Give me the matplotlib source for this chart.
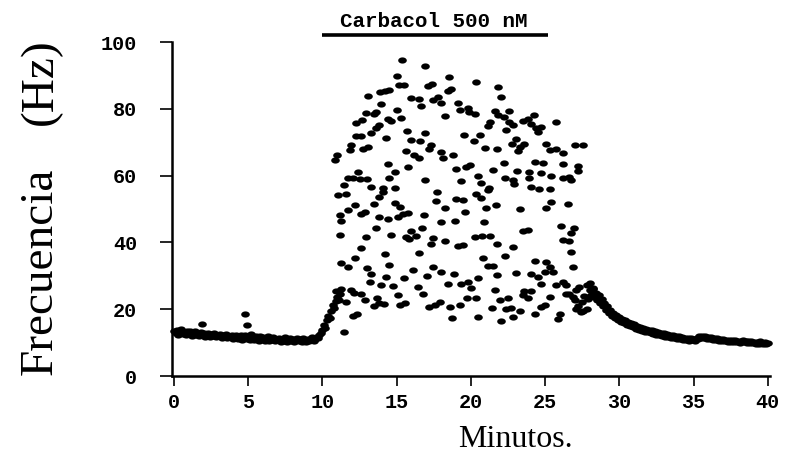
import numpy as np
import matplotlib
matplotlib.use("Agg")
import matplotlib.pyplot as plt
from matplotlib.path import Path

# ---------------- data ----------------
x_ticks = [0, 5, 10, 15, 20, 25, 30, 35, 40]
y_ticks = [0, 20, 40, 60, 80, 100]

# baseline firing, one reading every 0.1 min starting at 0 min
base_start, base_step = 0.0, 0.1
base_hz = [13.6, 12.8, 13.9, 12.4, 13.2, 14.0, 12.6, 13.3, 12.2, 13.5,
           12.7, 13.4, 12.1, 12.9, 13.6, 12.3, 12.8, 11.9, 13.1, 12.4,
           12.9, 11.8, 12.6, 13.0, 11.7, 12.5, 12.0, 12.8, 11.6, 12.3,
           11.9, 12.6, 11.4, 12.2, 11.8, 12.7, 11.3, 12.1, 11.6, 12.4,
           11.2, 11.9, 12.3, 11.0, 11.7, 12.2, 10.9, 11.6, 12.4, 11.1,
           11.8, 10.8, 12.5, 11.4, 10.7, 12.0, 11.2, 10.6, 11.9, 11.0,
           11.7, 10.5, 11.3, 12.1, 10.6, 11.5, 10.9, 11.8, 10.4, 11.2,
           10.7, 11.5, 10.3, 11.0, 10.6, 11.6, 10.2, 10.9, 11.4, 10.5,
           11.1, 10.3, 10.8, 11.5, 10.4, 11.0, 10.2, 11.3, 10.7, 10.3,
           11.2, 10.5, 10.9, 11.6, 10.4, 11.1, 11.8, 11.3, 12.4, 13.0,
           13.8, 15.2, 14.5, 16.8, 18.0, 17.5, 19.6, 21.2, 20.5, 22.6,
           23.8, 22.9, 24.6]

base_extra_min = [1.86, 4.78, 4.94]
base_extra_hz = [15.6, 18.6, 15.3]

# scattered firing under carbachol (minute, Hz)
cloud_early = [(15.35, 94.6), (15.04, 89.9), (15.13, 87.1), (15.5, 87.1), (13.1, 83.9),
               (13.85, 85.1), (14.2, 85.3), (14.5, 85.6), (15.98, 83.3), (13.96, 81.3),
               (15.0, 79.5), (12.9, 78.8), (13.62, 79.1), (13.47, 78.3), (15.3, 77.3),
               (14.4, 76.9), (14.63, 76.3), (12.68, 76.6), (12.28, 75.8), (13.8, 75.1),
               (13.62, 74.2), (13.29, 72.8), (15.7, 73.4), (12.28, 71.9), (12.57, 71.9),
               (14.3, 71.3), (15.94, 70.7), (11.94, 69.2), (11.83, 67.7), (12.73, 67.9),
               (13.06, 68.5), (15.64, 67.5), (11.0, 66.2), (10.86, 64.7), (14.44, 63.4),
               (15.76, 62.7), (14.86, 61.0), (14.48, 59.4), (12.39, 61.0), (11.72, 59.3),
               (12.05, 59.3), (12.5, 58.9), (13.0, 59.1), (11.45, 57.2), (13.29, 56.7),
               (14.07, 56.2), (14.9, 56.4),
               (11.04, 54.2), (11.6, 54.4), (13.8, 53.7), (14.07, 55.0), (12.17, 51.2),
               (13.5, 51.4), (14.86, 51.7), (15.2, 50.7), (11.72, 49.7), (12.84, 49.0),
               (12.62, 48.5), (11.16, 48.2), (11.27, 46.4), (13.8, 47.7), (14.41, 46.9),
               (15.08, 47.7), (15.42, 48.4), (15.76, 48.7), (13.62, 44.4), (15.94, 43.4),
               (11.16, 42.2), (12.95, 41.5), (14.63, 42.2), (15.64, 41.7), (15.86, 41.0),
               (12.62, 38.2), (12.21, 35.4), (14.18, 36.4), (11.27, 33.7), (11.72, 32.7),
               (14.48, 33.1), (13.0, 32.2), (13.29, 30.4), (14.3, 29.7), (15.49, 29.4),
               (16.1, 31.7), (13.22, 28.0), (13.96, 27.2), (14.75, 26.9), (10.93, 25.4),
               (11.27, 26.0), (11.94, 25.7), (12.12, 25.0), (12.62, 24.7), (15.08, 24.3),
               (12.84, 22.8), (13.69, 23.3), (13.8, 21.8), (11.6, 22.2), (13.5, 21.0),
               (14.14, 21.5), (15.2, 21.3), (15.58, 21.8), (12.05, 18.0), (12.34, 18.5),
               (11.45, 13.3)]

cloud_mid = [(16.9, 92.9), (18.5, 89.4), (20.36, 87.9), (17.1, 86.8), (17.37, 87.3),
             (18.45, 85.3), (18.67, 85.8), (21.85, 86.4), (22.0, 83.6), (16.53, 82.8),
             (16.64, 80.9), (17.44, 82.6), (17.78, 83.6), (18.0, 81.6), (19.12, 81.6),
             (19.24, 79.6), (19.8, 80.1), (19.9, 79.1), (20.25, 78.4), (18.27, 77.8),
             (21.6, 79.3), (21.8, 78.1), (21.3, 76.1), (21.15, 74.9), (16.88, 72.7),
             (19.53, 72.2), (20.6, 72.2), (20.2, 70.5), (16.6, 70.5), (17.28, 69.3),
             (17.2, 67.9), (20.96, 68.4), (21.77, 67.9), (16.2, 66.2), (16.53, 65.2),
             (18.0, 67.2), (18.1, 65.2), (18.79, 66.3), (19.68, 62.7), (19.97, 63.2),
             (19.0, 62.0), (21.48, 61.6), (20.47, 59.9), (16.88, 58.7), (19.35, 58.4),
             (20.65, 57.7), (21.25, 56.4),
             (17.73, 55.2), (19.0, 53.0), (19.46, 52.7), (20.36, 54.4), (20.7, 53.4),
             (21.15, 55.7), (17.66, 52.4), (18.23, 50.4), (21.03, 50.4), (21.7, 51.2),
             (19.57, 49.2), (16.84, 48.2), (18.0, 46.0), (18.9, 46.4), (20.9, 46.0),
             (16.7, 44.4), (16.3, 42.0), (17.44, 41.2), (17.28, 39.4), (18.27, 40.3),
             (19.12, 39.0), (19.46, 39.2), (20.25, 41.5), (20.74, 42.0), (21.26, 42.0),
             (21.77, 39.4), (16.53, 36.7), (20.8, 35.4), (21.15, 32.9), (21.48, 32.9),
             (17.44, 32.7), (18.0, 31.0), (18.86, 30.4), (17.06, 30.0), (21.77, 30.2),
             (20.5, 29.2), (18.45, 27.4), (19.35, 27.4), (19.8, 28.2), (20.02, 26.2),
             (16.43, 26.7), (16.77, 24.5), (21.6, 25.7), (19.75, 23.3), (20.36, 23.4),
             (17.2, 20.7), (17.55, 21.3), (17.9, 22.2), (18.57, 20.6), (19.24, 21.3),
             (21.4, 20.3), (21.93, 22.8), (18.72, 17.5), (20.47, 17.8), (22.04, 16.5)]

cloud_late = [(22.6, 79.4), (22.22, 77.6), (24.24, 78.1), (23.5, 76.4), (23.84, 76.8),
              (25.76, 75.9), (22.6, 75.9), (22.83, 75.1), (24.07, 75.4), (24.4, 74.2),
              (24.7, 74.6), (24.5, 73.1), (22.39, 73.6), (23.05, 71.1), (22.76, 69.5),
              (23.28, 68.7), (23.6, 69.5), (23.16, 67.4), (25.07, 69.5), (25.3, 67.7),
              (25.76, 68.1), (26.2, 66.7), (26.98, 69.2), (27.54, 69.2), (22.26, 63.7),
              (24.3, 64.2), (24.85, 63.7), (26.2, 63.4), (27.2, 62.9), (23.12, 61.5),
              (23.94, 61.0), (24.74, 60.7), (27.2, 61.3), (25.4, 59.9), (22.27, 59.4),
              (22.83, 58.7), (22.9, 57.5), (23.94, 59.2), (26.2, 59.2), (26.64, 59.5),
              (26.75, 58.7), (24.07, 56.5), (24.6, 55.9), (25.3, 55.9),
              (25.37, 52.2), (25.07, 50.4), (26.53, 51.5), (23.33, 50.0), (23.5, 43.4),
              (23.84, 43.7), (26.08, 45.0), (26.94, 44.2), (26.75, 42.7), (26.2, 40.7),
              (26.58, 40.5), (22.83, 38.5), (22.27, 35.9), (26.75, 37.2), (24.34, 34.4),
              (25.07, 34.0), (25.3, 32.7), (25.52, 31.0), (24.96, 31.2), (26.87, 32.7),
              (23.05, 30.7), (24.07, 30.4), (24.5, 29.7), (24.74, 27.4), (25.76, 27.2),
              (26.2, 28.0), (26.42, 27.2), (23.6, 25.4), (24.07, 25.4), (23.5, 24.3),
              (23.84, 23.3), (22.49, 23.4), (25.3, 23.7), (26.64, 24.7), (26.87, 23.7),
              (22.72, 20.5), (23.28, 19.5), (22.39, 20.1), (24.74, 20.7), (24.96, 21.3),
              (27.1, 20.2), (27.54, 19.5), (24.3, 18.5), (25.97, 18.7), (25.86, 17.1),
              (22.83, 17.8)]

trans_pts = [(27.3, 26.7), (27.1, 25.7), (27.8, 27.2), (28.0, 27.7), (27.4, 19.3),
             (27.8, 20.0), (27.2, 21.0), (27.6, 24.0), (27.9, 23.0), (28.2, 26.0),
             (27.5, 22.3), (26.4, 24.7), (27.0, 22.8)]

# washout, one reading every 0.1 min starting at 28 min
wash_start, wash_step = 28.0, 0.1
wash_hz = [25.8, 24.2, 26.3, 23.6, 25.0, 22.8, 24.4, 21.9, 23.2, 21.0,
           21.8, 19.9, 20.9, 18.8, 19.9, 17.9, 19.0, 17.4, 18.3, 16.9,
           17.6, 16.2, 17.2, 15.8, 16.7, 15.4, 16.3, 15.1, 15.9, 14.6,
           15.5, 14.2, 15.1, 13.9, 14.8, 13.6, 14.5, 13.3, 14.2, 13.1,
           13.9, 12.8, 13.7, 12.6, 13.5, 12.4, 13.2, 12.2, 13.0, 11.9,
           12.9, 11.8, 12.6, 11.7, 12.4, 11.5, 12.2, 11.3, 12.0, 11.2,
           11.9, 11.0, 11.7, 10.9, 11.5, 10.7, 11.4, 10.6, 11.3, 10.8,
           11.2, 10.6, 11.5, 11.0, 11.9, 11.3, 12.1, 11.4, 12.0, 11.2,
           11.8, 11.0, 11.6, 10.8, 11.4, 10.7, 11.3, 10.6, 11.1, 10.5,
           11.0, 10.4, 10.9, 10.3, 10.8, 10.2, 10.9, 10.3, 10.7, 10.1,
           10.6, 10.0, 10.5, 10.9, 10.2, 10.6, 9.9, 10.4, 10.0, 10.5,
           9.8, 10.3, 9.7, 10.2, 9.6, 10.4, 9.8, 9.5, 10.1, 9.6,
           9.9]

stim_on, stim_off = 10.0, 25.2
stim_label = "Carbacol 500 nM"
x_label = "Minutos."
y_label_main = "Frecuencia"
y_label_unit = "(Hz)"

# ---------------- figure ----------------
fig = plt.figure(figsize=(7.86, 4.54), dpi=100)
ax = fig.add_axes([171.5 / 786, 78 / 454, 598.5 / 786, 334 / 454])

theta = np.linspace(0, 2 * np.pi, 41)
ellipse = Path(np.column_stack([np.cos(theta), 0.72 * np.sin(theta)]), closed=True)
mk = dict(linestyle="none", marker=ellipse, ms=6.2, color="black", mew=0, clip_on=False)

base_min = base_start + base_step * np.arange(len(base_hz))
ax.plot(base_min, base_hz, **mk)
ax.plot(base_extra_min, base_extra_hz, **mk)
for grp in (cloud_early, cloud_mid, cloud_late, trans_pts):
    gx, gy = zip(*grp)
    ax.plot(gx, gy, **mk)
wash_min = wash_start + wash_step * np.arange(len(wash_hz))
ax.plot(wash_min, wash_hz, **mk)

ax.set_xlim(-0.17, 40.15)
ax.set_ylim(0, 100)
for s in ("top", "right"):
    ax.spines[s].set_visible(False)
for s in ("left", "bottom"):
    ax.spines[s].set_linewidth(1.8)

ax.set_xticks(x_ticks)
ax.set_yticks(y_ticks)
ax.tick_params(axis="x", direction="out", length=7.5, width=1.2, pad=5)
ax.tick_params(axis="y", direction="out", length=8.5, width=1.2, pad=16)
tick_font = dict(family="Liberation Mono", weight="bold", size=14.5)
ax.set_xticklabels([str(t) for t in x_ticks], fontdict=tick_font)
ax.set_yticklabels([str(t) for t in y_ticks], fontdict=tick_font)

# stimulus bar + label
ax.plot([stim_on, stim_off], [102.1, 102.1], color="black", lw=2.6,
        solid_capstyle="butt", clip_on=False)
fig.text(433.5 / 786, (454 - 27) / 454, stim_label, ha="center", va="baseline",
         family="Liberation Mono", weight="bold", size=15)

# axis labels
fig.text(515 / 786, (454 - 447) / 454, x_label, ha="center", va="baseline",
         family="Liberation Serif", size=23)
fig.text(52 / 786, (454 - 375) / 454, y_label_main, rotation=90, rotation_mode="anchor",
         ha="left", va="baseline", family="Liberation Serif", size=34)
fig.text(52 / 786, (454 - 125) / 454, y_label_unit, rotation=90, rotation_mode="anchor",
         ha="left", va="baseline", family="Liberation Serif", size=34)

fig.savefig("out.png", dpi=100)
